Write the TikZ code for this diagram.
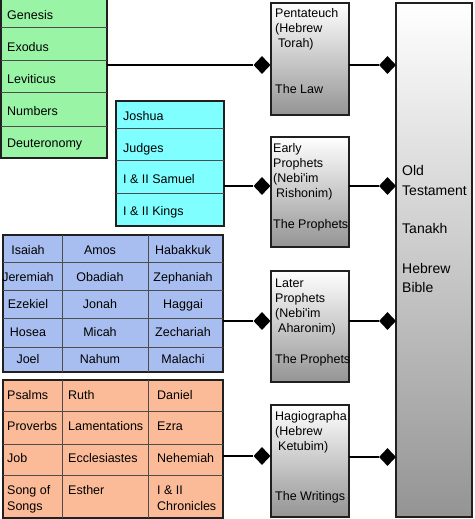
\documentclass[tikz,border=0pt]{standalone}
\usepackage{fontspec}
\setmainfont{Liberation Sans}[Ligatures=TeXOff]
\usetikzlibrary{shapes.geometric}
\definecolor{grn}{HTML}{99F5A5}
\definecolor{cyn}{HTML}{7FFFFF}
\definecolor{blu}{HTML}{A9BEF0}
\definecolor{pch}{HTML}{FBBB98}
\definecolor{edge}{HTML}{202020}
\tikzset{
  tbl/.style={draw=edge, line width=1.4pt},
  grid/.style={draw=edge!80, line width=0.6pt},
  txt/.style={inner sep=0pt, anchor=base west, font=\fontsize{12.5}{15}\selectfont},
  ctxt/.style={inner sep=0pt, anchor=base, font=\fontsize{12.5}{15}\selectfont},
  bigtxt/.style={inner sep=0pt, anchor=base west, font=\fontsize{14}{19.5}\selectfont},
  midbox/.style={draw=edge, line width=1.4pt, top color=white, bottom color=black!42},
  dia/.style={diamond, fill=black, inner sep=0pt, minimum width=17pt, minimum height=18pt},
  conn/.style={line width=2.2pt, black}
}
\begin{document}
\begin{tikzpicture}[x=1pt,y=-1pt]
\useasboundingbox (0,0) rectangle (474,519);
% green table
\filldraw[tbl, fill=grn] (1,-5) rectangle (107,158);
\foreach \y in {27,60,92,126} \draw[grid] (1,\y) -- (107,\y);
\node[txt] (gen) at (7,20) {Genesis};
\node[txt] (exo) at (7,52) {Exodus};
\node[txt] (lev) at (7,83) {Leviticus};
\node[txt] (num) at (7,115) {Numbers};
\node[txt] (deu) at (7,147) {Deuteronomy};
\coordinate (green) at (107,65);
% cyan table
\filldraw[tbl, fill=cyn] (116,101) rectangle (224,226);
\foreach \y in {128,160,193} \draw[grid] (116,\y) -- (224,\y);
\node[txt] (jos) at (123,120) {Joshua};
\node[txt] (jud) at (123,152) {Judges};
\node[txt] (sam) at (123,183) {I \& II Samuel};
\node[txt] (kin) at (123,215) {I \& II Kings};
\coordinate (cyan) at (224,186);
% blue table
\filldraw[tbl, fill=blu] (3,235) rectangle (223,372);
\foreach \y in {262,290,318,347} \draw[grid] (3,\y) -- (223,\y);
\foreach \x in {62,148} \draw[grid] (\x,235) -- (\x,372);
\foreach \a/\b/\c/\y [count=\i] in {Isaiah/Amos/Habakkuk/254, Jeremiah/Obadiah/Zephaniah/281, Ezekiel/Jonah/Haggai/308, Hosea/Micah/Zechariah/336, Joel/Nahum/Malachi/363}{
  \node[ctxt] (bA\i) at (28,\y) {\a};
  \node[ctxt] (bB\i) at (100,\y) {\b};
  \node[ctxt] (bC\i) at (183,\y) {\c};
}
\coordinate (blue) at (223,321);
% peach table
\filldraw[tbl, fill=pch] (3,380) rectangle (223,518);
\foreach \y in {411,444,475} \draw[grid] (3,\y) -- (223,\y);
\foreach \x in {62,148} \draw[grid] (\x,380) -- (\x,518);
\node[txt] (psa) at (7,399) {Psalms};
\node[txt] (rut) at (68,399) {Ruth};
\node[txt] (dan) at (157,399) {Daniel};
\node[txt] (pro) at (7,430) {Proverbs};
\node[txt] (lam) at (68,430) {Lamentations};
\node[txt] (ezr) at (157,430) {Ezra};
\node[txt] (job) at (7,462) {Job};
\node[txt] (ecc) at (68,462) {Ecclesiastes};
\node[txt] (neh) at (157,462) {Nehemiah};
\node[txt] (sosa) at (7,494) {Song of};
\node[txt] (sosb) at (7,510) {Songs};
\node[txt] (est) at (68,494) {Esther};
\node[txt] (chra) at (157,494) {I \& II};
\node[txt] (chrb) at (157,510) {Chronicles};
\coordinate (peach) at (223,456);
% middle boxes
\path[midbox] (271,3) rectangle (349,115);
\coordinate (pent) at (349,65);
\foreach \t [count=\i] in {{Pentateuch},{(Hebrew},{\hspace{3pt}Torah)}}
  \node[txt] (pent\i) at (275,{18+15*(\i-1)}) {\t};
\node[txt] (law) at (275,93) {The Law};
\path[midbox] (271,137) rectangle (349,247);
\coordinate (early) at (349,186);
\foreach \t [count=\i] in {{Early},{Prophets},{(Nebi'im},{\hspace{3pt}Rishonim)}}
  \node[txt] (early\i) at (273,{152+15*(\i-1)}) {\t};
\node[txt] (proph1) at (273,228) {The Prophets};
\path[midbox] (271,271) rectangle (349,382);
\coordinate (later) at (349,321);
\foreach \t [count=\i] in {{Later},{Prophets},{(Nebi'im},{\hspace{3pt}Aharonim)}}
  \node[txt] (later\i) at (275,{287+15*(\i-1)}) {\t};
\node[txt] (proph2) at (275,363) {The Prophets};
\path[midbox] (271,405) rectangle (349,517);
\coordinate (hagio) at (349,457);
\foreach \t [count=\i] in {{Hagiographa},{(Hebrew},{\hspace{3pt}Ketubim)}}
  \node[txt] (hag\i) at (275,{420+15*(\i-1)}) {\t};
\node[txt] (writ) at (275,500) {The Writings};
% big box
\path[midbox] (396,3) rectangle (472,517);
\node[bigtxt] (ot1) at (402,175) {Old};
\node[bigtxt] (ot2) at (402,195) {Testament};
\node[bigtxt] (tan) at (402,233) {Tanakh};
\node[bigtxt] (hb1) at (402,273) {Hebrew};
\node[bigtxt] (hb2) at (402,292) {Bible};
% diamonds
\node[dia] (dl1) at (262,65) {};
\node[dia] (dl2) at (262,186) {};
\node[dia] (dl3) at (262,321) {};
\node[dia] (dl4) at (262,456) {};
\node[dia] (dr1) at (387.5,65) {};
\node[dia] (dr2) at (387.5,186) {};
\node[dia] (dr3) at (387.5,321) {};
\node[dia] (dr4) at (387.5,457) {};
% connectors
\draw[conn] (green) -- (dl1.west);
\draw[conn] (cyan) -- (dl2.west);
\draw[conn] (blue) -- (dl3.west);
\draw[conn] (peach) -- (dl4.west);
\draw[conn] (pent) -- (dr1.west);
\draw[conn] (early) -- (dr2.west);
\draw[conn] (later) -- (dr3.west);
\draw[conn] (hagio) -- (dr4.west);
\end{tikzpicture}
\end{document}
